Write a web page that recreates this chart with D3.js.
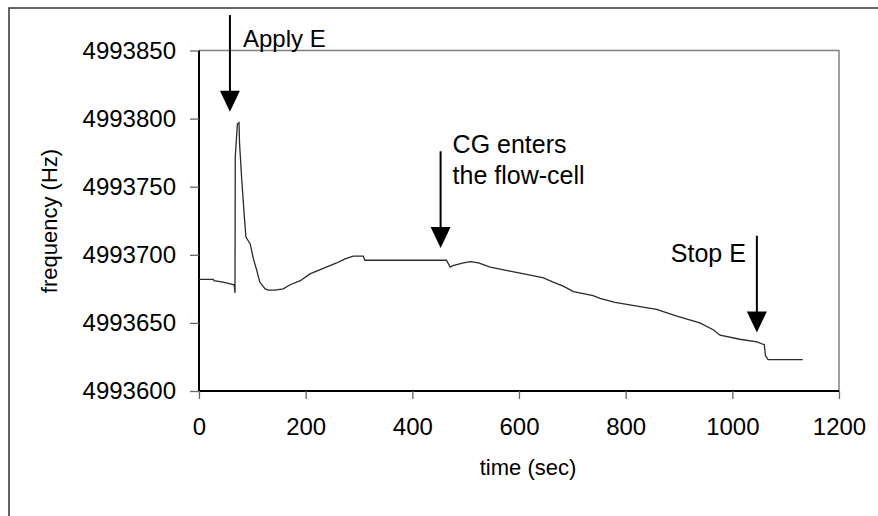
<!DOCTYPE html>
<html>
<head>
<meta charset="utf-8">
<script src="https://cdn.jsdelivr.net/npm/d3@7"></script>
<style>
  html, body { margin: 0; padding: 0; background: #fff; }
  svg { display: block; font-family: Arial, "Liberation Sans", sans-serif; }
</style>
</head>
<body>
<svg id="chart" width="878" height="516"></svg>
<script>
// Frequency trace of the resonator, time in seconds
const timeSec = [0, 27, 28, 45, 55, 66, 67.5, 68, 72, 75, 76, 80, 85, 88, 96, 102, 108, 114,
  124, 130, 142, 158, 171, 190, 208, 233, 258, 274, 289, 308, 311, 464, 471, 476, 496,
  509, 524, 546, 583, 621, 646, 664, 683, 702, 739, 752, 780, 827, 858, 896, 939, 964,
  977, 1014, 1046, 1060, 1062, 1067, 1132];
const freqHz = [4993682, 4993682, 4993681, 4993680, 4993679, 4993678, 4993672, 4993772,
  4993796, 4993797, 4993782, 4993756, 4993728, 4993713, 4993708, 4993697, 4993689,
  4993680, 4993675, 4993674, 4993674, 4993675, 4993678, 4993681, 4993686, 4993690,
  4993694, 4993697, 4993699, 4993699, 4993696, 4993696, 4993691, 4993692, 4993694,
  4993695, 4993694, 4993691, 4993688, 4993685, 4993683, 4993680, 4993677, 4993673,
  4993670, 4993668, 4993665, 4993662, 4993660, 4993655, 4993650, 4993645, 4993641,
  4993638, 4993636, 4993634, 4993626, 4993623, 4993623];

// Axis ticks
const xTicks = [0, 200, 400, 600, 800, 1000, 1200];
const yTicks = [4993600, 4993650, 4993700, 4993750, 4993800, 4993850];

// Event arrows: time, frequency at arrow tail, frequency at arrow tip
const eventLabels = [["Apply E"], ["CG enters", "the flow-cell"], ["Stop E"]];
const eventTime = [58, 453, 1046];
const eventTailHz = [4993876, 4993776, 4993714];
const eventTipHz = [4993805, 4993705, 4993643];

const svg = d3.select("#chart");
const plot = { left: 199, right: 839, top: 50.5, bottom: 391 };

// Outer chart frame
svg.append("rect").attr("x", 9).attr("y", 8).attr("width", 920).attr("height", 600)
  .attr("fill", "#fff").attr("stroke", "#333").attr("stroke-width", 1.5);

const x = d3.scaleLinear().domain([0, 1200]).range([plot.left, plot.right]);
const y = d3.scaleLinear().domain([4993600, 4993850]).range([plot.bottom, plot.top]);

// Plot area outline (top and right)
svg.append("path")
  .attr("d", `M${plot.left},${plot.top}H${plot.right}V${plot.bottom}`)
  .attr("fill", "none").attr("stroke", "#808080").attr("stroke-width", 1.5);

// Axes
const xAxis = svg.append("g").attr("transform", `translate(0,${plot.bottom})`)
  .call(d3.axisBottom(x).tickValues(xTicks).tickSize(8).tickPadding(19).tickFormat(d3.format("d")));
const yAxis = svg.append("g").attr("transform", `translate(${plot.left},0)`)
  .call(d3.axisLeft(y).tickValues(yTicks).tickSize(9).tickPadding(14).tickFormat(d3.format("d")));

[xAxis, yAxis].forEach(g => {
  g.select(".domain").attr("stroke", "#000").attr("stroke-width", 2);
  g.selectAll(".tick line").attr("stroke", "#666").attr("stroke-width", 1.3);
  g.selectAll(".tick text").attr("font-size", 24).attr("fill", "#000")
    .attr("font-family", "Arial, 'Liberation Sans', sans-serif");
});
xAxis.select(".domain").attr("d", `M${plot.left},0H${plot.right}`);
yAxis.select(".domain").attr("d", `M0,${plot.bottom}V${plot.top}`);

// Axis titles
svg.append("text").attr("x", 528).attr("y", 475).attr("text-anchor", "middle")
  .attr("font-size", 22).text("time (sec)");
svg.append("text").attr("transform", "translate(57,221) rotate(-90)")
  .attr("text-anchor", "middle").attr("font-size", 22).text("frequency (Hz)");

// Frequency trace
const pts = timeSec.map((t, i) => [t, freqHz[i]]);
svg.append("path").datum(pts)
  .attr("fill", "none").attr("stroke", "#2a2a2a").attr("stroke-width", 1.3)
  .attr("stroke-linejoin", "miter")
  .attr("d", d3.line().x(d => x(d[0])).y(d => y(d[1])));

// Event arrows with labels
eventTime.forEach((t, i) => {
  const ax = x(t), y0 = y(eventTailHz[i]), y1 = y(eventTipHz[i]);
  const headH = 21, headW = 10;
  svg.append("line").attr("x1", ax).attr("x2", ax).attr("y1", y0).attr("y2", y1 - headH + 2)
    .attr("stroke", "#000").attr("stroke-width", 2);
  svg.append("path")
    .attr("d", `M${ax - headW},${y1 - headH}L${ax + headW},${y1 - headH}L${ax},${y1}Z`)
    .attr("fill", "#000");
});

// Label placement relative to each arrow
const applyX = x(eventTime[0]);
svg.append("text").attr("x", applyX + 13).attr("y", 47).attr("font-size", 24)
  .text(eventLabels[0][0]);

const cgX = x(eventTime[1]);
eventLabels[1].forEach((s, k) => {
  svg.append("text").attr("x", cgX + 12).attr("y", 153 + k * 30.5).attr("font-size", 25)
    .text(s);
});

const stopX = x(eventTime[2]);
svg.append("text").attr("x", stopX - 11).attr("y", 262).attr("text-anchor", "end")
  .attr("font-size", 25).text(eventLabels[2][0]);
</script>
</body>
</html>
